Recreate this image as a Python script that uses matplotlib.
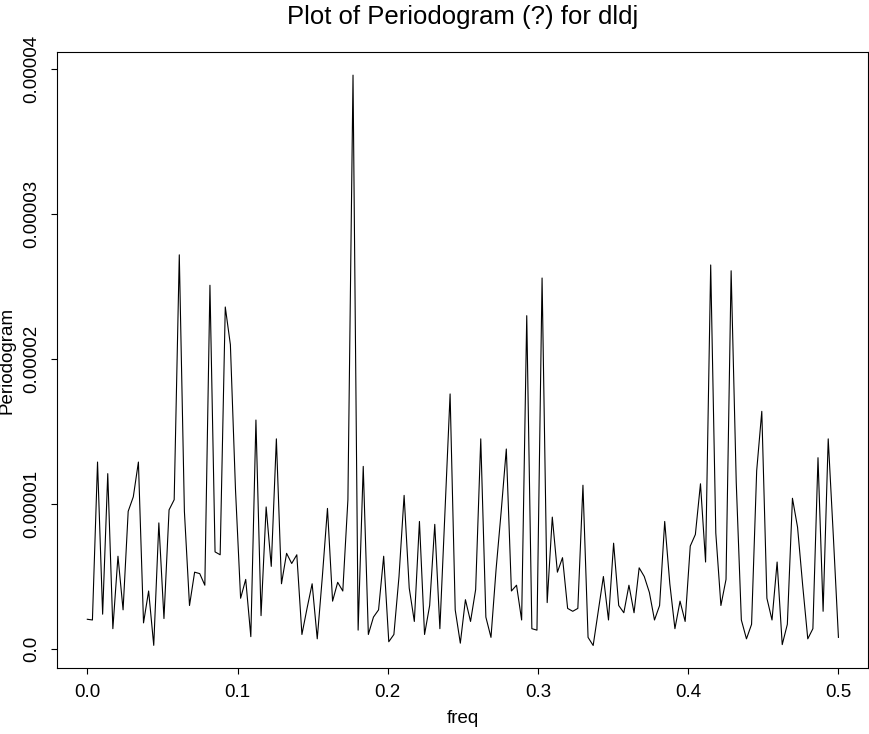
import numpy as np
import matplotlib
matplotlib.use("Agg")
import matplotlib.pyplot as plt

# periodogram of dldj, values in units of 1e-6
pgram_e6 = [
    2.05, 2.0, 12.9, 2.4, 12.1, 1.4, 6.4, 2.7, 9.5, 10.5,
    12.9, 1.8, 4.0, 0.25, 8.7, 2.1, 9.6, 10.3, 27.2, 9.5,
    3.0, 5.3, 5.2, 4.4, 25.1, 6.7, 6.5, 23.6, 21.0, 11.0,
    3.5, 4.8, 0.85, 15.8, 2.3, 9.8, 5.7, 14.5, 4.5, 6.6,
    5.9, 6.5, 1.0, 2.8, 4.5, 0.7, 5.0, 9.7, 3.3, 4.6,
    4.0, 10.3, 39.6, 1.3, 12.6, 1.0, 2.2, 2.7, 6.4, 0.5,
    1.0, 5.0, 10.6, 4.2, 1.9, 8.8, 1.0, 3.0, 8.6, 1.4,
    9.5, 17.6, 2.7, 0.4, 3.4, 1.9, 4.1, 14.5, 2.2, 0.8,
    5.5, 9.5, 13.8, 4.0, 4.4, 2.0, 23.0, 1.4, 1.3, 25.6,
    3.2, 9.1, 5.3, 6.3, 2.8, 2.6, 2.8, 11.3, 0.8, 0.24,
    2.6, 5.0, 2.0, 7.3, 3.0, 2.5, 4.4, 2.5, 5.6, 5.0,
    3.9, 2.0, 3.0, 8.8, 4.5, 1.4, 3.3, 1.9, 7.1, 7.9,
    11.4, 6.0, 26.5, 8.0, 3.0, 4.8, 26.1, 11.5, 2.0, 0.7,
    1.7, 12.3, 16.4, 3.5, 2.0, 6.0, 0.3, 1.7, 10.4, 8.4,
    4.4, 0.7, 1.4, 13.2, 2.6, 14.5, 7.8, 0.8,
]
n_obs = 294
pgram = np.array(pgram_e6) * 1e-6
freq = np.arange(len(pgram)) / n_obs

x_ticks = [0.0, 0.1, 0.2, 0.3, 0.4, 0.5]
x_labels = ["0.0", "0.1", "0.2", "0.3", "0.4", "0.5"]
y_ticks = [0.0, 0.00001, 0.00002, 0.00003, 0.00004]
y_labels = ["0.0", "0.00001", "0.00002", "0.00003", "0.00004"]

plt.rcParams['font.family'] = ['Liberation Sans', 'DejaVu Sans']

fig = plt.figure(figsize=(8.69, 7.34), dpi=100)
ax = fig.add_axes([0.0659, 0.0895, 0.9335, 0.8392])

ax.plot(freq, pgram, color="black", linewidth=0.8)

# R-style 4% padding
fr = freq.max() - freq.min()
ax.set_xlim(freq.min() - 0.04 * fr, freq.max() + 0.04 * fr)
pr = pgram.max() - pgram.min()
ax.set_ylim(pgram.min() - 0.04 * pr, pgram.max() + 0.04 * pr)

ax.set_xticks(x_ticks)
ax.set_xticklabels(x_labels)
ax.set_yticks(y_ticks)
ax.set_yticklabels(y_labels, rotation=90, va="center")
ax.tick_params(direction="out", length=4, width=0.8, labelsize=13.5, pad=7)
ax.tick_params(axis="y", pad=8)

for s in ax.spines.values():
    s.set_linewidth(0.8)

ax.set_xlabel("freq", fontsize=13.5, labelpad=7)
fig.text(7.5 / 869, 1 - 360 / 734, "Periodogram", fontsize=13.5,
         rotation=90, ha="center", va="center")
fig.text(0.5327, 0.993, "Plot of Periodogram (?) for dldj", fontsize=18.5,
         ha="center", va="top")

fig.savefig("out.png", dpi=100)
